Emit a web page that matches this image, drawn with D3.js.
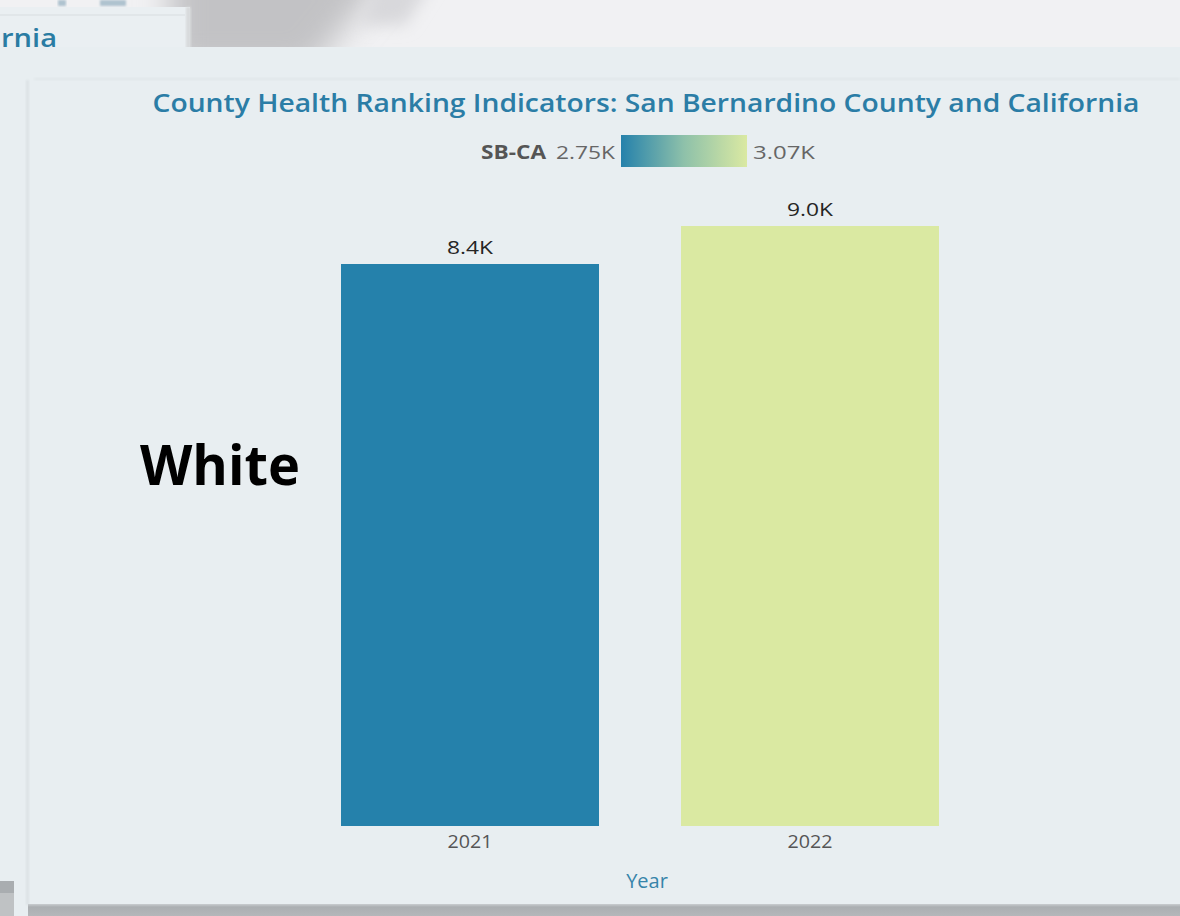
<!DOCTYPE html>
<html><head><meta charset="utf-8">
<script src="https://cdn.jsdelivr.net/npm/d3@7"></script>
<style>html,body{margin:0;padding:0;background:#E8EEF1;overflow:hidden}</style>
</head><body>
<script>
// ---- data ----
const years = ["2021", "2022"];
const totals = [8430, 9000];          // bar heights (labels 8.4K / 9.0K)
const sbCa = [2750, 3070];            // SB-CA colour value
const legendRange = [2750, 3070];
const legendColors = ["#2581AB", "#8EC1AA", "#DAE9A2"];
const titleText = "County Health Ranking Indicators: San Bernardino County and California";
const groupLabel = "White";
const xAxisTitle = "Year";
const legendTitle = "SB-CA";
const backTitle = "rnia";

const W = 1180, H = 916;
const svg = d3.select("body").append("svg").attr("width", W).attr("height", H)
  .style("display", "block");
const defs = svg.append("defs");
defs.append("filter").attr("id", "blur")
  .attr("x", "-100%").attr("y", "-100%").attr("width", "300%").attr("height", "300%")
  .append("feGaussianBlur").attr("stdDeviation", 16);
defs.append("filter").attr("id", "blur3")
  .attr("x", "-100%").attr("y", "-100%").attr("width", "300%").attr("height", "300%")
  .append("feGaussianBlur").attr("stdDeviation", 8);
defs.append("filter").attr("id", "blur2").append("feGaussianBlur").attr("stdDeviation", 1.2);

// ---- backdrop ----
svg.append("rect").attr("x", 0).attr("y", 0).attr("width", W).attr("height", 48).attr("fill", "#F1F1F3");
const topClip = defs.append("clipPath").attr("id", "topclip");
topClip.append("rect").attr("x", 0).attr("y", 0).attr("width", W).attr("height", 48);
const topG = svg.append("g").attr("clip-path", "url(#topclip)");
topG.append("path").attr("d", "M170,-40 L400,-40 L310,70 L170,70 Z")
  .attr("fill", "#C2C2C5").attr("filter", "url(#blur)");
topG.append("path").attr("d", "M380,-30 L440,-30 L405,25 L360,25 Z")
  .attr("fill", "#D8D8DB").attr("filter", "url(#blur3)");
// back panel top-left
svg.append("rect").attr("x", -10).attr("y", 7).attr("width", 200).attr("height", 45).attr("fill", "#EAEFF2");
svg.append("rect").attr("x", 186).attr("y", 7).attr("width", 5).attr("height", 45).attr("fill", "#D8DADC").attr("filter", "url(#blur2)");
svg.append("rect").attr("x", -10).attr("y", 14).attr("width", 195).attr("height", 2).attr("fill", "#E1E6E9");
svg.append("g").selectAll("rect").data([58, 100]).join("rect")
  .attr("x", d => d).attr("y", 0).attr("width", d => d === 58 ? 8 : 26).attr("height", 6)
  .attr("fill", "#AFC3CF").attr("filter", "url(#blur2)");
svg.append("text").attr("x", 1).attr("y", 47)
  .attr("font-family", "Open Sans").attr("font-weight", 600).attr("font-size", 26)
  .attr("fill", "#2A7CA3").attr("textLength", 56).attr("lengthAdjust", "spacingAndGlyphs").text(backTitle);
// main panel
svg.append("rect").attr("x", 0).attr("y", 47).attr("width", W).attr("height", 858).attr("fill", "#E8EEF1");
svg.append("rect").attr("x", 26).attr("y", 80).attr("width", 3).attr("height", 825).attr("fill", "#DCE2E5").attr("filter", "url(#blur2)");
svg.append("rect").attr("x", 34).attr("y", 78).attr("width", W - 34).attr("height", 2).attr("fill", "#E0E6E9").attr("filter", "url(#blur2)");
const shadow = defs.append("linearGradient").attr("id", "shadow").attr("x1", 0).attr("x2", 0).attr("y1", 0).attr("y2", 1);
shadow.append("stop").attr("offset", 0).attr("stop-color", "#C9CDD0");
shadow.append("stop").attr("offset", 0.25).attr("stop-color", "#ABAFB2");
shadow.append("stop").attr("offset", 1).attr("stop-color", "#B4B7BA");
svg.append("rect").attr("x", 28).attr("y", 904).attr("width", W - 28).attr("height", 12).attr("fill", "url(#shadow)");
svg.append("rect").attr("x", 0).attr("y", 881).attr("width", 14).attr("height", 35).attr("fill", "#BFC2C4");
svg.append("rect").attr("x", 0).attr("y", 881).attr("width", 14).attr("height", 12).attr("fill", "#A9ADB0");

// ---- title ----
svg.append("text").attr("x", 646).attr("y", 112).attr("text-anchor", "middle")
  .attr("font-family", "Open Sans").attr("font-weight", 600).attr("font-size", 25)
  .attr("fill", "#2B7DA6").attr("textLength", 987).attr("lengthAdjust", "spacingAndGlyphs")
  .text(titleText);

// ---- legend ----
const color = d3.scaleLinear().domain([legendRange[0], (legendRange[0] + legendRange[1]) / 2, legendRange[1]])
  .range(legendColors);
const lg = defs.append("linearGradient").attr("id", "lg");
d3.range(0, 1.0001, 0.1).forEach(t => {
  lg.append("stop").attr("offset", t)
    .attr("stop-color", color(legendRange[0] + t * (legendRange[1] - legendRange[0])));
});
const lx = 621, lw = 126, ly = 135, lh = 32;
svg.append("rect").attr("x", lx).attr("y", ly).attr("width", lw).attr("height", lh).attr("fill", "url(#lg)");
const fmtK = v => (v / 1000).toFixed(2) + "K";
svg.append("text").attr("x", 481).attr("y", 159)
  .attr("font-family", "Open Sans").attr("font-weight", 700).attr("font-size", 19)
  .attr("fill", "#555").attr("textLength", 65).attr("lengthAdjust", "spacingAndGlyphs").text(legendTitle);
svg.append("text").attr("x", 556).attr("y", 159)
  .attr("font-family", "Open Sans").attr("font-size", 19).attr("fill", "#666")
  .attr("textLength", 59).attr("lengthAdjust", "spacingAndGlyphs").text(fmtK(legendRange[0]));
svg.append("text").attr("x", 753).attr("y", 159)
  .attr("font-family", "Open Sans").attr("font-size", 19).attr("fill", "#666")
  .attr("textLength", 62).attr("lengthAdjust", "spacingAndGlyphs").text(fmtK(legendRange[1]));

// ---- chart ----
const x = d3.scaleBand().domain(years).range([171, 1109]).paddingInner(0.2412).paddingOuter(0.5);
const y = d3.scaleLinear().domain([0, 9000]).range([826, 226]);
const data = years.map((yr, i) => ({ year: yr, total: totals[i], c: sbCa[i] }));

svg.append("g").selectAll("rect").data(data).join("rect")
  .attr("x", d => x(d.year)).attr("width", x.bandwidth())
  .attr("y", d => y(d.total)).attr("height", d => y(0) - y(d.total))
  .attr("fill", d => color(d.c));

svg.append("g").selectAll("text").data(data).join("text")
  .attr("x", d => x(d.year) + x.bandwidth() / 2).attr("y", d => y(d.total) - 10)
  .attr("text-anchor", "middle").attr("font-family", "Open Sans").attr("font-size", 19)
  .attr("fill", "#252525").attr("textLength", 46).attr("lengthAdjust", "spacingAndGlyphs")
  .text(d => (d.total / 1000).toFixed(1) + "K");

const xAxis = svg.append("g").attr("transform", "translate(0,826)")
  .call(d3.axisBottom(x).tickSize(0).tickPadding(9));
xAxis.select(".domain").remove();
xAxis.selectAll("text").attr("font-family", "Open Sans").attr("font-size", 19).attr("fill", "#555")
  .attr("textLength", 45).attr("lengthAdjust", "spacingAndGlyphs");

svg.append("text").attr("x", 647).attr("y", 888).attr("text-anchor", "middle")
  .attr("font-family", "Open Sans").attr("font-size", 20).attr("fill", "#3684AA").text(xAxisTitle);

svg.append("text").attr("x", 140).attr("y", 485)
  .attr("font-family", "Open Sans").attr("font-weight", 700).attr("font-size", 56)
  .attr("fill", "#000").attr("textLength", 160).attr("lengthAdjust", "spacingAndGlyphs").text(groupLabel);
</script>
</body></html>
